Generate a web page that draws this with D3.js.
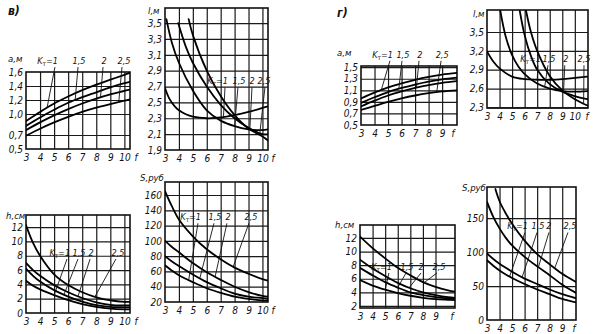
<!DOCTYPE html>
<html>
<head>
<meta charset="utf-8">
<script src="https://cdn.jsdelivr.net/npm/d3@7"></script>
<style>
  html, body { margin: 0; padding: 0; background: #fff; }
  svg { display: block; }
  text { font-family: "DejaVu Sans Condensed", "DejaVu Sans", sans-serif; font-style: italic; fill: #111; font-size: 10px; }
  .title { font-size: 9.5px; }
  .klabel { font-size: 9px; }
  .letter { font-size: 12px; font-weight: bold; }
</style>
</head>
<body>
<svg id="chart" width="594" height="334"></svg>
<script>
// ---------- data: frequency f and the four curves of each nomogram ----------
const kTexts = ["=1", "1,5", "2", "2,5"];

// в) electrode spacing a, м
const fA_v = [3, 4, 5, 6, 7, 8, 9, 10, 10.4];
const a_v = [
  [0.90, 1.03, 1.15, 1.25, 1.34, 1.42, 1.49, 1.56, 1.59],
  [0.83, 0.95, 1.06, 1.16, 1.24, 1.31, 1.38, 1.44, 1.46],
  [0.77, 0.88, 0.98, 1.07, 1.15, 1.22, 1.28, 1.33, 1.35],
  [0.69, 0.79, 0.88, 0.96, 1.03, 1.09, 1.14, 1.19, 1.21]
];
const aTicks_v = [0.5, 0.7, 1.0, 1.2, 1.4, 1.6];

// в) length l, м (curves start at different f)
const fL_v = [
  [3, 3.3, 3.7, 4, 4.5, 5, 6, 7, 8, 9, 10, 10.4],
  [3.1, 3.5, 4, 5, 6, 7, 8, 9, 10, 10.4],
  [3.95, 4.5, 5, 6, 7, 8, 9, 10, 10.4],
  [4.7, 5, 6, 7, 8, 9, 10, 10.4]
];
const l_v = [
  [2.68, 2.55, 2.45, 2.40, 2.35, 2.32, 2.30, 2.31, 2.34, 2.38, 2.43, 2.45],
  [3.55, 3.25, 3.00, 2.65, 2.40, 2.27, 2.20, 2.16, 2.15, 2.16],
  [3.50, 3.20, 3.00, 2.70, 2.47, 2.30, 2.18, 2.10, 2.10],
  [3.55, 3.35, 2.90, 2.58, 2.34, 2.17, 2.07, 2.02]
];
const lTicks_v = [1.9, 2.1, 2.3, 2.5, 2.7, 2.9, 3.1, 3.3, 3.5];

// в) height h, см
const fH_v = [3, 3.5, 4, 5, 6, 7, 8, 9, 10, 10.4];
const h_v = [
  [12.3, 9.8, 8.0, 5.4, 3.9, 2.9, 2.2, 1.75, 1.55, 1.55],
  [7.0, 6.0, 5.2, 3.9, 2.9, 2.1, 1.5, 1.15, 1.05, 1.05],
  [6.2, 5.2, 4.4, 3.2, 2.3, 1.6, 1.1, 0.85, 0.8, 0.8],
  [4.5, 3.8, 3.3, 2.5, 1.8, 1.25, 0.85, 0.6, 0.5, 0.5]
];
const hTicks_v = [0, 2, 4, 6, 8, 10, 12];

// в) cost S, руб
const fS_v = [3, 3.5, 4, 5, 6, 7, 8, 9, 10, 10.4];
const S_v = [
  [165, 145, 128, 106, 89, 76, 65, 57, 50, 48],
  [100, 92, 85, 71, 59, 49, 40, 33, 28, 27],
  [80, 73, 67, 56, 46, 38, 31, 27, 25, 24],
  [68, 61, 55, 46, 38, 32, 27, 24, 22, 22]
];
const STicks_v = [20, 40, 60, 80, 100, 120, 140, 160];

// г) electrode spacing a, м
const fA_g = [3, 4, 5, 6, 7, 8, 9, 10.1];
const a_g = [
  [0.96, 1.06, 1.15, 1.22, 1.28, 1.33, 1.37, 1.40],
  [0.88, 0.98, 1.07, 1.14, 1.20, 1.25, 1.29, 1.32],
  [0.82, 0.92, 1.01, 1.08, 1.14, 1.19, 1.23, 1.26],
  [0.76, 0.83, 0.90, 0.96, 1.01, 1.05, 1.08, 1.10]
];
const aTicks_g = [0.5, 0.7, 0.9, 1.1, 1.3, 1.5];

// г) length l, м
const fL_g = [
  [3, 3.5, 4, 5, 6, 7, 8, 9, 10, 11],
  [4.05, 4.5, 5, 5.5, 6, 7, 8, 9, 10, 11],
  [5.6, 6, 6.5, 7, 8, 9, 10, 11],
  [6.1, 6.5, 7, 8, 9, 10, 11]
];
const l_g = [
  [3.19, 3.03, 2.92, 2.79, 2.75, 2.74, 2.74, 2.75, 2.77, 2.79],
  [3.85, 3.42, 3.13, 2.95, 2.83, 2.68, 2.60, 2.56, 2.55, 2.56],
  [3.85, 3.45, 3.12, 2.90, 2.67, 2.55, 2.48, 2.43],
  [3.85, 3.50, 3.20, 2.80, 2.57, 2.43, 2.33]
];
const lTicks_g = [2.3, 2.6, 2.9, 3.2, 3.5];

// г) height h, см
const fH_g = [3, 4, 5, 6, 7, 8, 9, 10, 10.55];
const h_g = [
  [12.2, 10.5, 9.0, 7.6, 6.5, 5.5, 4.8, 4.3, 4.1],
  [8.8, 7.5, 6.4, 5.4, 4.6, 4.0, 3.6, 3.3, 3.2],
  [7.6, 6.5, 5.5, 4.7, 4.0, 3.6, 3.3, 3.1, 3.05],
  [5.8, 5.0, 4.4, 3.9, 3.5, 3.2, 3.0, 2.9, 2.85]
];
const hTicks_g = [2, 4, 6, 8, 10, 12];

// г) cost S, руб
const fS_g = [
  [3.67, 4, 4.5, 5, 6, 7, 8, 9, 10.1],
  [3, 3.5, 4, 4.5, 5, 6, 7, 8, 9, 10.1],
  [3, 3.5, 4, 4.5, 5, 6, 7, 8, 9, 10.1],
  [3, 3.5, 4, 4.5, 5, 6, 7, 8, 9, 10.1]
];
const S_g = [
  [193, 175, 157, 142, 117, 97, 82, 68, 56],
  [174, 152, 135, 121, 110, 93, 79, 66, 52, 40],
  [98, 90, 83, 77, 71, 61, 53, 45, 38, 32],
  [88, 80, 73, 67, 62, 53, 45, 38, 31, 26]
];
const STicks_g = [0, 50, 100, 150];

const fTicks10 = [3, 4, 5, 6, 7, 8, 9, 10];
const fTicks9 = [3, 4, 5, 6, 7, 8, 9];

// ---------- layout of the eight plots ----------
const same = (fs) => [fs, fs, fs, fs];
const panels = [
  { box: [26, 72, 130, 149], xDom: [3, 10.4], yDom: [0.5, 1.6], xTicks: fTicks10, yTicks: aTicks_v, fmt: "dec",
    title: "а,м", tdx: -18, tdy: -10, fdx: 6, fs: same(fA_v), vs: a_v,
    labels: [[4.78, 1.71, 5.06, 1.67, 4.5, 0], [6.77, 1.71, 6.70, 1.67, 6.5, 1], [8.55, 1.71, 8.48, 1.67, 8.3, 2], [9.97, 1.71, 9.83, 1.67, 9.6, 3]] },
  { box: [165, 8, 268, 150], xDom: [3, 10.4], yDom: [1.9, 3.69], xTicks: fTicks10, yTicks: lTicks_v, fmt: "dec",
    title: "l,м", tdx: -17, tdy: 6, fdx: 5, fs: fL_v, vs: l_v,
    labels: [[7.09, 2.73, 7.31, 2.69, 7.2, 0], [8.32, 2.73, 8.24, 2.69, 8.0, 1], [9.25, 2.73, 9.25, 2.69, 9.1, 2], [10.11, 2.73, 10.18, 2.69, 9.8, 3]] },
  { box: [26, 215, 130, 313], xDom: [3, 10.4], yDom: [0, 13.7], xTicks: fTicks10, yTicks: hTicks_v, fmt: "int",
    title: "h,см", tdx: -20, tdy: 4, fdx: 6, fs: same(fH_v), vs: h_v,
    labels: [[5.63, 7.97, 5.92, 7.55, 5.0, 3], [6.77, 7.97, 6.70, 7.55, 5.7, 2], [7.63, 7.97, 7.56, 7.55, 6.7, 1], [9.55, 7.97, 9.40, 7.55, 7.9, 0]] },
  { box: [165, 182, 268, 302], xDom: [3, 10.4], yDom: [20, 177], xTicks: fTicks10, yTicks: STicks_v, fmt: "int",
    title: "S,руб", tdx: -25, tdy: -1, fdx: 5, fs: same(fS_v), vs: S_v,
    labels: [[5.01, 127, 5.37, 123, 4.7, 3], [6.59, 127, 6.52, 123, 5.5, 2], [7.53, 127, 7.45, 123, 6.6, 1], [9.18, 127, 9.03, 123, 7.9, 0]] },
  { box: [361, 66, 457, 125], xDom: [3, 10.1], yDom: [0.5, 1.52], xTicks: fTicks9, yTicks: aTicks_g, fmt: "dec",
    title: "а,м", tdx: -24, tdy: -10, fdx: -4, fs: same(fA_g), vs: a_g,
    labels: [[4.85, 1.66, 5.14, 1.61, 4.5, 0], [6.10, 1.66, 6.03, 1.61, 5.8, 1], [7.36, 1.66, 7.29, 1.61, 7.1, 2], [9.0, 1.66, 8.92, 1.61, 8.6, 3]] },
  { box: [487, 10, 588, 108], xDom: [3, 11.05], yDom: [2.29, 3.85], xTicks: fTicks10, yTicks: lTicks_g, fmt: "dec",
    title: "l,м", tdx: -14, tdy: 7, fdx: -1, fs: fL_g, vs: l_g,
    labels: [[6.9, 3.02, 7.06, 2.97, 7.0, 0], [7.94, 3.02, 7.86, 2.97, 7.6, 1], [9.29, 3.02, 9.2, 2.97, 9.1, 2], [10.73, 3.02, 10.73, 2.97, 10.7, 3]] },
  { box: [360, 225, 455, 308], xDom: [3, 10.55], yDom: [1.7, 13.9], xTicks: fTicks9, yTicks: hTicks_g, fmt: "int",
    title: "h,см", tdx: -25, tdy: 3, fdx: -3, fs: same(fH_g), vs: h_g,
    labels: [[4.99, 7.29, 5.3, 6.85, 5.0, 3], [6.74, 7.29, 6.66, 6.85, 6.0, 2], [7.85, 7.29, 7.85, 6.85, 6.9, 1], [9.28, 7.29, 9.12, 6.85, 8.1, 0]] },
  { box: [487, 187, 576, 320], xDom: [3, 10.1], yDom: [0, 196], xTicks: fTicks9, yTicks: STicks_g, fmt: "int",
    title: "S,руб", tdx: -25, tdy: 4, fdx: -2, fs: fS_g, vs: S_g,
    labels: [[5.55, 134, 6.03, 129, 4.8, 3], [7.07, 134, 6.99, 129, 5.8, 2], [7.94, 134, 7.94, 129, 7.1, 1], [9.62, 134, 9.46, 129, 8.4, 0]] }
];

// ---------- drawing ----------
const svg = d3.select("#chart");
const line = d3.line().curve(d3.curveCatmullRom.alpha(0.5));
const fmtDec = (v) => d3.format(".1f")(v).replace(".", ",");
const fmtInt = d3.format("d");

function valueAt(fs, vs, f) {
  const i = Math.max(1, Math.min(fs.length - 1, d3.bisectLeft(fs, f)));
  const t = (f - fs[i - 1]) / (fs[i] - fs[i - 1]);
  return vs[i - 1] + t * (vs[i] - vs[i - 1]);
}

panels.forEach((p, pi) => {
  const [x0, y0, x1, y1] = p.box;
  const x = d3.scaleLinear().domain(p.xDom).range([x0, x1]);
  const y = d3.scaleLinear().domain(p.yDom).range([y1, y0]);
  const g = svg.append("g");

  const clipId = "clip" + pi;
  svg.append("clipPath").attr("id", clipId)
    .append("rect").attr("x", x0).attr("y", y0).attr("width", x1 - x0).attr("height", y1 - y0);

  // grid
  const gx = g.append("g").attr("transform", `translate(0,${y1})`)
    .call(d3.axisBottom(x).tickValues(p.xTicks.filter(t => t > p.xDom[0] && t < p.xDom[1]))
      .tickSize(-(y1 - y0)).tickFormat(""));
  const gy = g.append("g").attr("transform", `translate(${x0},0)`)
    .call(d3.axisLeft(y).tickValues(p.yTicks.filter(t => t > p.yDom[0] && t < p.yDom[1]))
      .tickSize(-(x1 - x0)).tickFormat(""));
  [gx, gy].forEach(a => {
    a.select(".domain").remove();
    a.selectAll("line").attr("stroke", "#1a1a1a").attr("stroke-width", 1.2);
  });

  // frame
  g.append("rect").attr("x", x0).attr("y", y0).attr("width", x1 - x0).attr("height", y1 - y0)
    .attr("fill", "none").attr("stroke", "#111").attr("stroke-width", 1.6);

  // curves
  const cg = g.append("g").attr("clip-path", `url(#${clipId})`);
  p.vs.forEach((vs, i) => {
    const pts = p.fs[i].map((f, j) => [x(f), y(vs[j])]);
    cg.append("path").attr("d", line(pts)).attr("fill", "none")
      .attr("stroke", "#000").attr("stroke-width", 1.8).attr("stroke-linecap", "round");
  });

  // tick labels
  const ax = g.append("g").attr("transform", `translate(0,${y1})`)
    .call(d3.axisBottom(x).tickValues(p.xTicks).tickSize(0).tickPadding(5).tickFormat(fmtInt));
  const ay = g.append("g").attr("transform", `translate(${x0},0)`)
    .call(d3.axisLeft(y).tickValues(p.yTicks).tickSize(0).tickPadding(3)
      .tickFormat(p.fmt === "dec" ? fmtDec : fmtInt));
  [ax, ay].forEach(a => a.select(".domain").remove());

  g.append("text").attr("x", x1 + p.fdx).attr("y", y1 + 12).attr("text-anchor", "middle").text("f");
  g.append("text").attr("class", "title").attr("x", x0 + p.tdx).attr("y", y0 + p.tdy).text(p.title);

  // curve labels with leader lines
  p.labels.forEach(([tf, tv, lf, lv, toF, idx], k) => {
    const t = g.append("text").attr("class", "klabel").attr("y", y(tv));
    if (k === 0) {
      // "Kт=1" ends just right of where its leader starts
      t.attr("x", x(lf) + 3).attr("text-anchor", "end");
      t.append("tspan").text("K");
      t.append("tspan").attr("font-size", "6.5px").attr("dy", 2).style("font-style", "normal").text("т");
      t.append("tspan").attr("dy", -2).text(kTexts[k]);
    } else {
      t.attr("x", x(tf)).attr("text-anchor", "middle").text(kTexts[k]);
    }
    const toV = valueAt(p.fs[idx], p.vs[idx], toF);
    g.append("line")
      .attr("x1", x(lf)).attr("y1", y(lv)).attr("x2", x(toF)).attr("y2", y(toV))
      .attr("stroke", "#111").attr("stroke-width", 0.9);
  });
});

// panel letters
svg.append("text").attr("class", "letter").attr("x", 8).attr("y", 15).text("в)");
svg.append("text").attr("class", "letter").attr("x", 337).attr("y", 17).text("г)");
</script>
</body>
</html>
